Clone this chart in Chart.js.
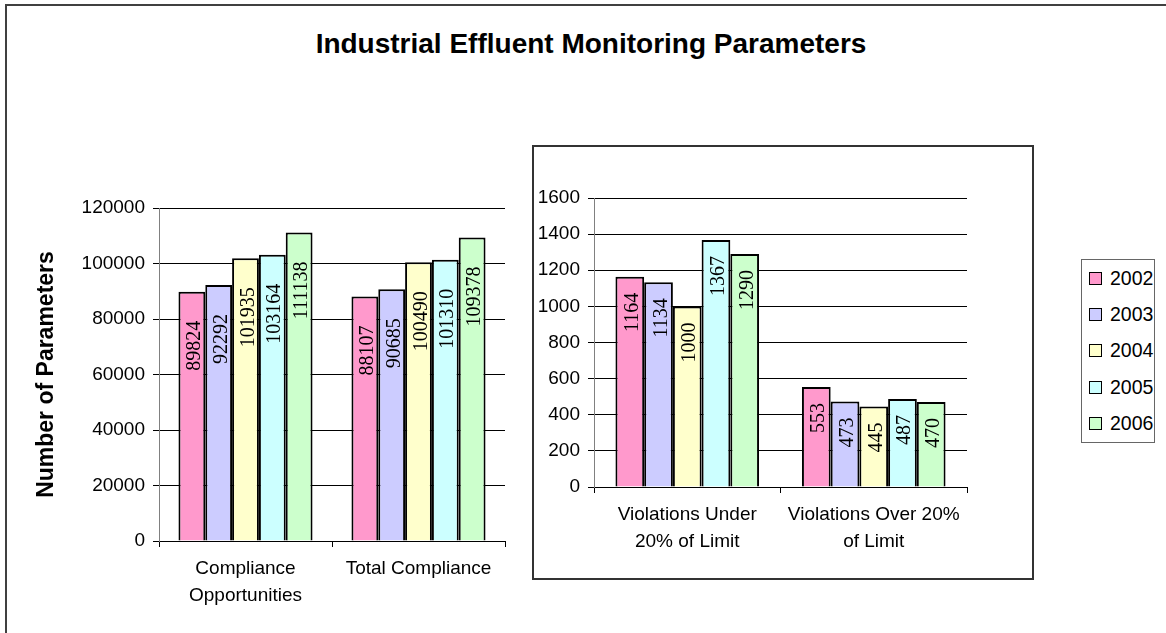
<!DOCTYPE html>
<html>
<head>
<meta charset="utf-8">
<script src="https://cdn.jsdelivr.net/npm/chart.js@4.4.1/dist/chart.umd.min.js"></script>
<style>
  html, body { margin: 0; padding: 0; background: #fff; }
  body { width: 1166px; height: 633px; position: relative; overflow: hidden;
         font-family: 'Liberation Sans', Arial, sans-serif; }
  #frame { position: absolute; left: 5px; top: 4px; width: 1200px; height: 700px; border: 2px solid #404040; }
  #title { position: absolute; left: 0; width: 1182px; top: 28px; text-align: center;
           font-weight: bold; font-size: 28px; color: #000; }
  #rightBox { position: absolute; left: 532px; top: 145px; width: 498px; height: 431px; border: 2px solid #333; }
  #leftWrap { position: absolute; left: 0; top: 180px; width: 520px; height: 450px; }
  #rightWrap { position: absolute; left: 535px; top: 148px; width: 495px; height: 428px; }
  #legend { position: absolute; left: 1081px; top: 259px; width: 72px; height: 182px; border: 1px solid #666; }
  .row { height: 36.4px; display: flex; align-items: center; font-size: 19.5px; color: #000; }
  .sw { width: 11px; height: 11px; border: 1.5px solid #000; margin: 0 8px 0 7px; }
</style>
</head>
<body>
<div id="frame"></div>
<div id="title">Industrial Effluent Monitoring Parameters</div>
<div id="rightBox"></div>
<div id="leftWrap"><canvas id="leftChart"></canvas></div>
<div id="rightWrap"><canvas id="rightChart"></canvas></div>
<div id="legend"></div>
<script>
'use strict';

// ── Data ────────────────────────────────────────────────────────────────
const YEARS = ['2002', '2003', '2004', '2005', '2006'];
const COLORS = ['#FF99CC', '#CCCCFF', '#FFFFCC', '#CCFFFF', '#CCFFCC'];

const LEFT_CATEGORIES = [['Compliance', 'Opportunities'], 'Total Compliance'];
const RIGHT_CATEGORIES = [['Violations Under', '20% of Limit'], ['Violations Over 20%', 'of Limit']];

const complianceOpportunities = [89824, 92292, 101935, 103164, 111138];
const totalCompliance = [88107, 90685, 100490, 101310, 109378];
const violationsUnder20 = [1164, 1134, 1000, 1367, 1290];
const violationsOver20 = [553, 473, 445, 487, 470];

const LEFT_MAX = 120000, LEFT_STEP = 20000;
const RIGHT_MAX = 1600, RIGHT_STEP = 200;

const SANS = "'Liberation Sans', Arial, sans-serif";
const SERIF = "'Liberation Serif', 'Times New Roman', serif";

// Vertical value labels, reading bottom-to-top, hung from the top of each bar
const verticalValueLabels = {
    id: 'verticalValueLabels',
    afterDatasetsDraw(chart, args, opts) {
        const ctx = chart.ctx;
        ctx.save();
        ctx.font = '20px ' + SERIF;
        ctx.fillStyle = '#000';
        ctx.textAlign = 'right';
        ctx.textBaseline = 'alphabetic';
        chart.data.datasets.forEach((ds, i) => {
            chart.getDatasetMeta(i).data.forEach((bar, j) => {
                ctx.save();
                ctx.translate(bar.x, bar.y + opts.gap);
                ctx.rotate(-Math.PI / 2);
                ctx.fillText(String(ds.data[j]), 0, 8);
                ctx.restore();
            });
        });
        ctx.restore();
    },
};

function makeDatasets(seriesA, seriesB, catPct) {
    return YEARS.map((year, i) => ({
        label: year,
        data: [seriesA[i], seriesB[i]],
        backgroundColor: COLORS[i],
        borderColor: '#000',
        borderWidth: 2,
        categoryPercentage: catPct,
        barPercentage: 1,
    }));
}

function barChart(canvasId, cfg) {
    return new Chart(document.getElementById(canvasId), {
        type: 'bar',
        data: { labels: cfg.labels, datasets: cfg.datasets },
        plugins: [verticalValueLabels],
        options: {
            responsive: true,
            maintainAspectRatio: false,
            animation: false,
            layout: { padding: cfg.padding },
            plugins: {
                legend: { display: false },
                tooltip: { enabled: false },
                verticalValueLabels: { gap: cfg.labelGap },
            },
            scales: {
                x: {
                    offset: true,
                    grid: { display: true, offset: true, drawOnChartArea: false, tickLength: 6, color: '#000' },
                    border: { color: '#000' },
                    ticks: { color: '#000', padding: 8, maxRotation: 0, autoSkip: false,
                             font: { family: SANS, size: 19, lineHeight: 1.42 } },
                    afterFit: s => { s.height = cfg.xHeight; },
                },
                y: {
                    min: 0,
                    max: cfg.max,
                    ticks: { stepSize: cfg.step, color: '#000', padding: 8,
                             font: { family: SANS, size: 19 }, callback: v => String(v) },
                    grid: { color: '#000', tickLength: 6 },
                    border: { color: '#808080' },
                    title: cfg.yTitle || { display: false },
                    afterFit: s => { s.width = cfg.yWidth; },
                },
            },
        },
    });
}

barChart('leftChart', {
    labels: LEFT_CATEGORIES,
    datasets: makeDatasets(complianceOpportunities, totalCompliance, 0.775),
    max: LEFT_MAX, step: LEFT_STEP,
    padding: { top: 28, right: 15, bottom: 0, left: 0 },
    xHeight: 89, yWidth: 159, labelGap: 29,
    yTitle: { display: true, text: 'Number of Parameters', color: '#000',
              font: { family: SANS, size: 23, weight: 'bold' }, padding: { top: 33, bottom: 0 } },
});

barChart('rightChart', {
    labels: RIGHT_CATEGORIES,
    datasets: makeDatasets(violationsUnder20, violationsOver20, 0.77),
    max: RIGHT_MAX, step: RIGHT_STEP,
    padding: { top: 50, right: 63, bottom: 0, left: 0 },
    xHeight: 89, yWidth: 59, labelGap: 16,
});

// ── Legend (shared by both panels) ──────────────────────────────────────
const legend = document.getElementById('legend');
YEARS.forEach((year, i) => {
    const row = document.createElement('div');
    row.className = 'row';
    row.innerHTML = '<span class="sw" style="background:' + COLORS[i] + '"></span>' + year;
    legend.appendChild(row);
});
</script>
</body>
</html>
